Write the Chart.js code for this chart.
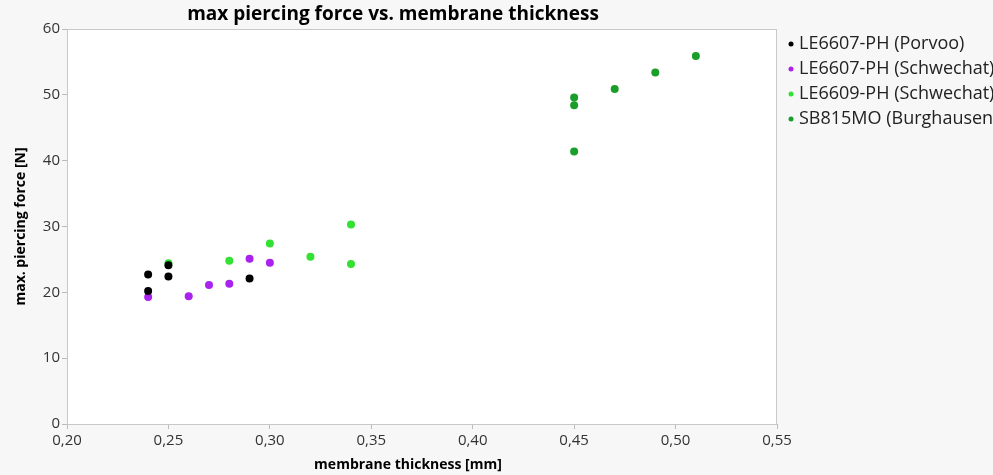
<!DOCTYPE html>
<html>
<head>
<meta charset="utf-8">
<script src="https://cdn.jsdelivr.net/npm/chart.js@4"></script>
<style>
  html, body { margin: 0; padding: 0; background: #f7f7f7; overflow: hidden; }
  #wrap { width: 993px; height: 475px; }
</style>
</head>
<body>
<div id="wrap"><canvas id="myChart" width="993" height="475"></canvas></div>
<script>
// series labels and colours
var seriesNames = ['LE6607-PH (Porvoo)', 'LE6607-PH (Schwechat)', 'LE6609-PH (Schwechat)', 'SB815MO (Burghausen)']
var seriesColors = ['#000000', '#aa22ee', '#33e133', '#1a9e2a']

// thickness [mm] / force [N] per series
var porvooX = [0.24, 0.24, 0.25, 0.25, 0.29]
var porvooY = [22.7, 20.2, 24.1, 22.4, 22.1]

var schwechat07X = [0.24, 0.26, 0.27, 0.28, 0.29, 0.30]
var schwechat07Y = [19.3, 19.4, 21.1, 21.3, 25.1, 24.5]

var schwechat09X = [0.25, 0.28, 0.30, 0.32, 0.34, 0.34]
var schwechat09Y = [24.4, 24.8, 27.4, 25.4, 24.3, 30.3]

var burghausenX = [0.45, 0.45, 0.45, 0.47, 0.49, 0.51]
var burghausenY = [49.6, 48.4, 41.4, 50.9, 53.4, 55.9]

var xTicks = { min: 0.20, max: 0.55, step: 0.05 }
var yTicks = { min: 0, max: 60, step: 10 }

var FONT = "'Open Sans', 'Noto Sans', sans-serif"

function toPoints(xs, ys) {
    var pts = []
    for (let [i, x] of xs.entries()) {
        pts.push({ x: x, y: ys[i] })
    }
    return pts
}

var seriesData = [
    toPoints(porvooX, porvooY),
    toPoints(schwechat07X, schwechat07Y),
    toPoints(schwechat09X, schwechat09Y),
    toPoints(burghausenX, burghausenY)
]

var datasets = []
for (let [i, name] of seriesNames.entries()) {
    datasets.push({
        label: name,
        data: seriesData[i],
        backgroundColor: seriesColors[i],
        borderColor: seriesColors[i],
        pointRadius: 4,
        pointHoverRadius: 4,
        borderWidth: 0
    })
}

// backgrounds, frame, titles and legend
var decor = {
    id: 'decor',
    beforeDraw(chart) {
        var ctx = chart.ctx
        var a = chart.chartArea
        ctx.save()
        ctx.fillStyle = '#f7f7f7'
        ctx.fillRect(0, 0, chart.width, chart.height)
        ctx.fillStyle = '#ffffff'
        ctx.fillRect(a.left, a.top, a.right - a.left, a.bottom - a.top)
        ctx.restore()
    },
    beforeDatasetsDraw(chart) {
        var ctx = chart.ctx
        var a = chart.chartArea
        ctx.save()
        ctx.strokeStyle = '#c8c8c8'
        ctx.lineWidth = 1
        ctx.strokeRect(a.left + 0.5, a.top + 0.5, a.right - a.left - 1, a.bottom - a.top)
        ctx.restore()
    },
    afterDraw(chart) {
        var ctx = chart.ctx
        ctx.save()
        ctx.fillStyle = '#000'
        ctx.font = 'bold 19px ' + FONT
        ctx.textAlign = 'center'
        ctx.textBaseline = 'middle'
        ctx.fillText('max piercing force vs. membrane thickness', 393, 15)

        // x axis title sits a little left of the plot centre in the original
        ctx.font = 'bold 14px ' + FONT
        ctx.fillText('membrane thickness [mm]', 408, 465)

        ctx.font = '18px ' + FONT
        ctx.textAlign = 'left'
        for (let [i, ds] of chart.data.datasets.entries()) {
            var yy = 44 + i * 25
            ctx.fillStyle = ds.backgroundColor
            ctx.beginPath()
            ctx.arc(791, yy, 2.5, 0, Math.PI * 2)
            ctx.fill()
            ctx.fillStyle = '#222'
            ctx.fillText(ds.label, 799, yy)
        }
        ctx.restore()
    }
}

var ctx = document.getElementById('myChart').getContext('2d')
new Chart(ctx, {
    type: 'scatter',
    data: { datasets: datasets },
    plugins: [decor],
    options: {
        responsive: false,
        animation: false,
        layout: { padding: { top: 29, right: 216, left: 0, bottom: 0 } },
        plugins: {
            legend: { display: false },
            tooltip: { enabled: false }
        },
        scales: {
            x: {
                type: 'linear',
                min: xTicks.min,
                max: xTicks.max,
                afterFit(scale) { scale.height = 51 },
                ticks: {
                    stepSize: xTicks.step,
                    color: '#333',
                    padding: 3,
                    font: { family: FONT, size: 15 },
                    callback: function (v) { return v.toFixed(2).replace('.', ',') }
                },
                grid: { drawOnChartArea: false, drawTicks: true, tickLength: 5, color: '#bbbbbb' },
                border: { display: false }
            },
            y: {
                min: yTicks.min,
                max: yTicks.max,
                afterFit(scale) { scale.width = 67 },
                ticks: {
                    stepSize: yTicks.step,
                    color: '#333',
                    padding: 2,
                    font: { family: FONT, size: 15 }
                },
                grid: { drawOnChartArea: false, drawTicks: true, tickLength: 5, color: '#bbbbbb' },
                border: { display: false },
                title: {
                    display: true,
                    text: 'max. piercing force [N]',
                    color: '#000',
                    font: { family: FONT, size: 14, weight: 'bold' },
                    padding: { top: 13, bottom: 0 }
                }
            }
        }
    }
})
</script>
</body>
</html>
